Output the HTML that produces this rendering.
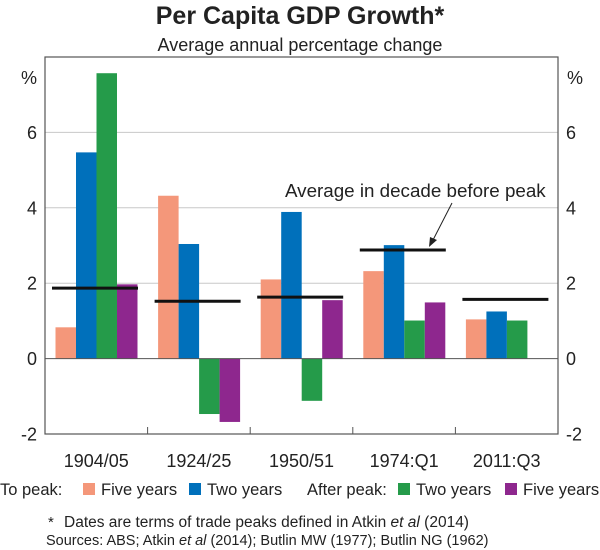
<!DOCTYPE html>
<html><head><meta charset="utf-8"><style>
html,body{margin:0;padding:0;background:#fff;}
svg{display:block;font-family:"Liberation Sans",Arial,sans-serif;}
</style></head><body>
<svg id="chart" width="600" height="550" viewBox="0 0 600 550">
<text x="300" y="24" text-anchor="middle" font-size="25" font-weight="bold" fill="#222">Per Capita GDP Growth*</text>
<text x="300" y="51" text-anchor="middle" font-size="18" fill="#222">Average annual percentage change</text>
<g id="grid"></g>
<g id="bars"></g>
<g id="avgs"></g>
<g id="axes"></g>
<text x="285" y="197" font-size="18.8" fill="#222">Average in decade before peak</text>
<line x1="452" y1="203" x2="433" y2="240" stroke="#222" stroke-width="1"/>
<polygon points="429,247 430,237 437,240" fill="#222"/>
<g id="legend" font-size="16.5" fill="#222">
<text x="0" y="495">To peak:</text>
<rect x="83" y="483" width="12" height="12" fill="#f4977a"/>
<text x="101" y="495">Five years</text>
<rect x="189" y="483" width="12" height="12" fill="#0070bb"/>
<text x="207" y="495">Two years</text>
<text x="307" y="495">After peak:</text>
<rect x="398" y="483" width="12" height="12" fill="#259b4a"/>
<text x="416" y="495">Two years</text>
<rect x="505" y="483" width="12" height="12" fill="#8e278e"/>
<text x="523" y="495">Five years</text>
</g>
<text x="48" y="527" font-size="15" fill="#222">*</text>
<text x="64" y="527" font-size="15.5" fill="#222">Dates are terms of trade peaks defined in Atkin <tspan font-style="italic">et al</tspan> (2014)</text>
<text x="46" y="545" font-size="14.5" fill="#222">Sources: ABS; Atkin <tspan font-style="italic">et al</tspan> (2014); Butlin MW (1977); Butlin NG (1962)</text>
</svg>
<script>
const categories = ["1904/05","1924/25","1950/51","1974:Q1","2011:Q3"];
const toPeakFive = [0.83, 4.32, 2.1, 2.32, 1.04];
const toPeakTwo = [5.47, 3.04, 3.89, 3.01, 1.25];
const afterPeakTwo = [7.57, -1.47, -1.12, 1.01, 1.01];
const afterPeakFive = [1.97, -1.68, 1.55, 1.49, null];
const decadeAverage = [1.87, 1.52, 1.63, 2.88, 1.57];
const yTicks = [-2, 0, 2, 4, 6];
const yTickLabels = ["-2","0","2","4","6"];

const NS = "http://www.w3.org/2000/svg";
const L = 45, R = 558, T = 57, B = 434, yMin = -2, yMax = 8;
const y = v => B - (v - yMin) / (yMax - yMin) * (B - T);
const gw = (R - L) / categories.length;
const gx = i => L + i * gw;
const bw = 20.5;
function mk(tag, attrs, parent){ const e=document.createElementNS(NS,tag); for(const k in attrs) e.setAttribute(k,attrs[k]); parent.appendChild(e); return e; }
const grid=document.getElementById('grid'), bars=document.getElementById('bars'), avgs=document.getElementById('avgs'), axes=document.getElementById('axes');
yTicks.forEach((t,i)=>{
  if(t!==0 && t!==yMin){ const g=mk('line',{x1:L,x2:R,y1:y(t),y2:y(t),stroke:'#c8c8c8','stroke-width':1},grid);
    
     }
  const a=mk('text',{x:L-8,y:y(t)+6.5,'text-anchor':'end','font-size':18,fill:'#222'},axes); a.textContent=yTickLabels[i];
  
  
  const b=mk('text',{x:R+8,y:y(t)+6.5,'text-anchor':'start','font-size':18,fill:'#222'},axes); b.textContent=yTickLabels[i];
  
  
});
const g8=mk('line',{x1:L,x2:R,y1:y(8),y2:y(8),stroke:'#c8c8c8','stroke-width':1},grid);


[[L-16,'y-unit-left'],[R+17,'y-unit-right']].forEach(([x,n])=>{const p=mk('text',{x:x,y:84,'text-anchor':'middle','font-size':18,fill:'#222'},axes);p.textContent='%';
  
  });
const series=[[toPeakFive,'#f4977a','to-peak-five'],[toPeakTwo,'#0070bb','to-peak-two'],[afterPeakTwo,'#259b4a','after-peak-two'],[afterPeakFive,'#8e278e','after-peak-five']];
categories.forEach((c,i)=>{
  const x0=gx(i)+10.5;
  series.forEach(([arr,col,nm],s)=>{
    const v=arr[i]; if(v===null||v===undefined) return;
    const r=mk('rect',{x:x0+s*bw,y:Math.min(y(v),y(0)),width:bw,height:Math.abs(y(v)-y(0)),fill:col},bars);
    
    
  });
  const a=mk('line',{x1:gx(i)+7,x2:gx(i)+93,y1:y(decadeAverage[i]),y2:y(decadeAverage[i]),stroke:'#111','stroke-width':3},avgs);
  
  
  const lab=mk('text',{x:gx(i)+gw/2,y:467,'text-anchor':'middle','font-size':18,fill:'#222'},axes); lab.textContent=c;
  
  
  if(i>0){const tk=mk('line',{x1:gx(i),x2:gx(i),y1:B,y2:B-7,stroke:'#555','stroke-width':1},axes);
    
    }
});
const z=mk('line',{x1:L,x2:R,y1:y(0),y2:y(0),stroke:'#555','stroke-width':1},axes);


const fr=mk('rect',{x:L,y:T,width:R-L,height:B-T,fill:'none',stroke:'#555','stroke-width':1.2},axes);


</script>
</body></html>
